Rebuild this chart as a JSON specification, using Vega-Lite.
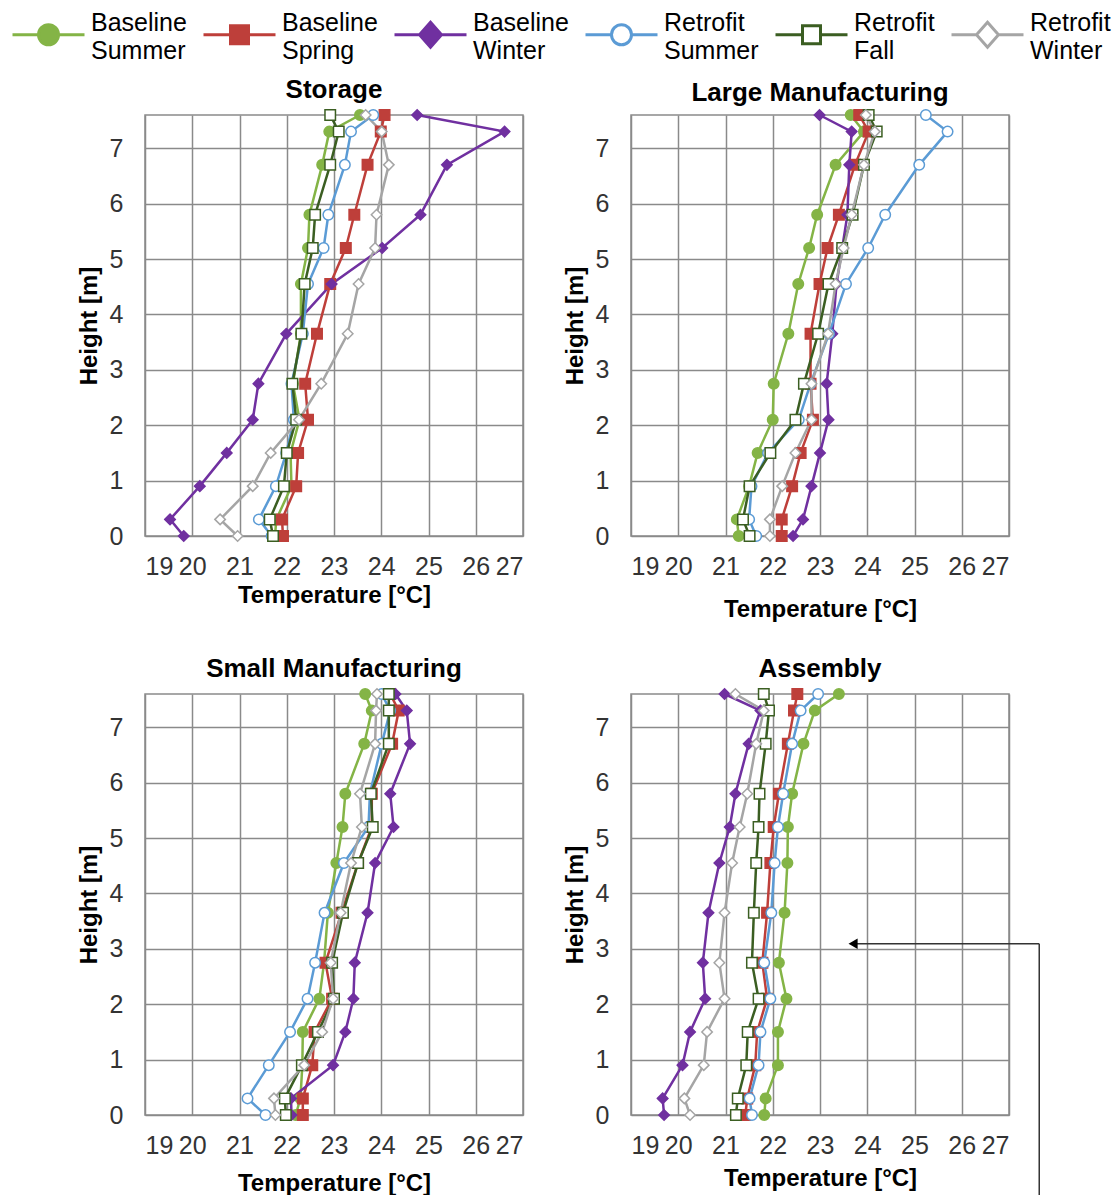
{
  "$schema": "https://vega.github.io/schema/vega-lite/v6.json",
  "padding": {"left": 10, "top": 22, "right": 5, "bottom": 0},
  "columns": 2,
  "spacing": {"row": 158, "column": 108},
  "bounds": "flush",
  "data": {"values": [
    {"p":"S","s":"Baseline Summer","h":0,"t":21.75},{"p":"S","s":"Baseline Summer","h":0.3,"t":21.78},{"p":"S","s":"Baseline Summer","h":0.9,"t":22.1},{"p":"S","s":"Baseline Summer","h":1.5,"t":22.08},{"p":"S","s":"Baseline Summer","h":2.1,"t":22.27},{"p":"S","s":"Baseline Summer","h":2.75,"t":22.13},{"p":"S","s":"Baseline Summer","h":3.65,"t":22.3},{"p":"S","s":"Baseline Summer","h":4.55,"t":22.3},{"p":"S","s":"Baseline Summer","h":5.2,"t":22.45},{"p":"S","s":"Baseline Summer","h":5.8,"t":22.48},{"p":"S","s":"Baseline Summer","h":6.7,"t":22.75},{"p":"S","s":"Baseline Summer","h":7.3,"t":22.9},{"p":"S","s":"Baseline Summer","h":7.6,"t":23.55},
    {"p":"S","s":"Baseline Spring","h":0,"t":21.92},{"p":"S","s":"Baseline Spring","h":0.3,"t":21.9},{"p":"S","s":"Baseline Spring","h":0.9,"t":22.2},{"p":"S","s":"Baseline Spring","h":1.5,"t":22.24},{"p":"S","s":"Baseline Spring","h":2.1,"t":22.45},{"p":"S","s":"Baseline Spring","h":2.75,"t":22.39},{"p":"S","s":"Baseline Spring","h":3.65,"t":22.64},{"p":"S","s":"Baseline Spring","h":4.55,"t":22.92},{"p":"S","s":"Baseline Spring","h":5.2,"t":23.25},{"p":"S","s":"Baseline Spring","h":5.8,"t":23.43},{"p":"S","s":"Baseline Spring","h":6.7,"t":23.71},{"p":"S","s":"Baseline Spring","h":7.3,"t":23.99},{"p":"S","s":"Baseline Spring","h":7.6,"t":24.07},
    {"p":"S","s":"Baseline Winter","h":0,"t":19.82},{"p":"S","s":"Baseline Winter","h":0.3,"t":19.53},{"p":"S","s":"Baseline Winter","h":0.9,"t":20.16},{"p":"S","s":"Baseline Winter","h":1.5,"t":20.73},{"p":"S","s":"Baseline Winter","h":2.1,"t":21.28},{"p":"S","s":"Baseline Winter","h":2.75,"t":21.4},{"p":"S","s":"Baseline Winter","h":3.65,"t":21.99},{"p":"S","s":"Baseline Winter","h":4.55,"t":22.95},{"p":"S","s":"Baseline Winter","h":5.2,"t":24.02},{"p":"S","s":"Baseline Winter","h":5.8,"t":24.83},{"p":"S","s":"Baseline Winter","h":6.7,"t":25.39},{"p":"S","s":"Baseline Winter","h":7.3,"t":26.61},{"p":"S","s":"Baseline Winter","h":7.6,"t":24.76},
    {"p":"S","s":"Retrofit Summer","h":0,"t":21.68},{"p":"S","s":"Retrofit Summer","h":0.3,"t":21.41},{"p":"S","s":"Retrofit Summer","h":0.9,"t":21.77},{"p":"S","s":"Retrofit Summer","h":1.5,"t":21.99},{"p":"S","s":"Retrofit Summer","h":2.1,"t":22.15},{"p":"S","s":"Retrofit Summer","h":2.75,"t":22.1},{"p":"S","s":"Retrofit Summer","h":3.65,"t":22.34},{"p":"S","s":"Retrofit Summer","h":4.55,"t":22.45},{"p":"S","s":"Retrofit Summer","h":5.2,"t":22.78},{"p":"S","s":"Retrofit Summer","h":5.8,"t":22.88},{"p":"S","s":"Retrofit Summer","h":6.7,"t":23.23},{"p":"S","s":"Retrofit Summer","h":7.3,"t":23.36},{"p":"S","s":"Retrofit Summer","h":7.6,"t":23.83},
    {"p":"S","s":"Retrofit Fall","h":0,"t":21.71},{"p":"S","s":"Retrofit Fall","h":0.3,"t":21.64},{"p":"S","s":"Retrofit Fall","h":0.9,"t":21.94},{"p":"S","s":"Retrofit Fall","h":1.5,"t":22.0},{"p":"S","s":"Retrofit Fall","h":2.1,"t":22.2},{"p":"S","s":"Retrofit Fall","h":2.75,"t":22.12},{"p":"S","s":"Retrofit Fall","h":3.65,"t":22.31},{"p":"S","s":"Retrofit Fall","h":4.55,"t":22.38},{"p":"S","s":"Retrofit Fall","h":5.2,"t":22.55},{"p":"S","s":"Retrofit Fall","h":5.8,"t":22.6},{"p":"S","s":"Retrofit Fall","h":6.7,"t":22.92},{"p":"S","s":"Retrofit Fall","h":7.3,"t":23.1},{"p":"S","s":"Retrofit Fall","h":7.6,"t":22.92},
    {"p":"S","s":"Retrofit Winter","h":0,"t":20.96},{"p":"S","s":"Retrofit Winter","h":0.3,"t":20.59},{"p":"S","s":"Retrofit Winter","h":0.9,"t":21.28},{"p":"S","s":"Retrofit Winter","h":1.5,"t":21.66},{"p":"S","s":"Retrofit Winter","h":2.1,"t":22.26},{"p":"S","s":"Retrofit Winter","h":2.75,"t":22.73},{"p":"S","s":"Retrofit Winter","h":3.65,"t":23.29},{"p":"S","s":"Retrofit Winter","h":4.55,"t":23.52},{"p":"S","s":"Retrofit Winter","h":5.2,"t":23.87},{"p":"S","s":"Retrofit Winter","h":5.8,"t":23.9},{"p":"S","s":"Retrofit Winter","h":6.7,"t":24.16},{"p":"S","s":"Retrofit Winter","h":7.3,"t":24.01},{"p":"S","s":"Retrofit Winter","h":7.6,"t":23.67},

    {"p":"L","s":"Baseline Summer","h":0,"t":21.28},{"p":"L","s":"Baseline Summer","h":0.3,"t":21.24},{"p":"L","s":"Baseline Summer","h":0.9,"t":21.5},{"p":"L","s":"Baseline Summer","h":1.5,"t":21.68},{"p":"L","s":"Baseline Summer","h":2.1,"t":22.0},{"p":"L","s":"Baseline Summer","h":2.75,"t":22.02},{"p":"L","s":"Baseline Summer","h":3.65,"t":22.33},{"p":"L","s":"Baseline Summer","h":4.55,"t":22.54},{"p":"L","s":"Baseline Summer","h":5.2,"t":22.77},{"p":"L","s":"Baseline Summer","h":5.8,"t":22.94},{"p":"L","s":"Baseline Summer","h":6.7,"t":23.33},{"p":"L","s":"Baseline Summer","h":7.3,"t":23.93},{"p":"L","s":"Baseline Summer","h":7.6,"t":23.65},
    {"p":"L","s":"Baseline Spring","h":0,"t":22.19},{"p":"L","s":"Baseline Spring","h":0.3,"t":22.19},{"p":"L","s":"Baseline Spring","h":0.9,"t":22.41},{"p":"L","s":"Baseline Spring","h":1.5,"t":22.59},{"p":"L","s":"Baseline Spring","h":2.1,"t":22.85},{"p":"L","s":"Baseline Spring","h":2.75,"t":22.8},{"p":"L","s":"Baseline Spring","h":3.65,"t":22.8},{"p":"L","s":"Baseline Spring","h":4.55,"t":22.99},{"p":"L","s":"Baseline Spring","h":5.2,"t":23.16},{"p":"L","s":"Baseline Spring","h":5.8,"t":23.4},{"p":"L","s":"Baseline Spring","h":6.7,"t":23.74},{"p":"L","s":"Baseline Spring","h":7.3,"t":24.03},{"p":"L","s":"Baseline Spring","h":7.6,"t":23.83},
    {"p":"L","s":"Baseline Winter","h":0,"t":22.43},{"p":"L","s":"Baseline Winter","h":0.3,"t":22.64},{"p":"L","s":"Baseline Winter","h":0.9,"t":22.82},{"p":"L","s":"Baseline Winter","h":1.5,"t":23.0},{"p":"L","s":"Baseline Winter","h":2.1,"t":23.18},{"p":"L","s":"Baseline Winter","h":2.75,"t":23.14},{"p":"L","s":"Baseline Winter","h":3.65,"t":23.26},{"p":"L","s":"Baseline Winter","h":4.55,"t":23.35},{"p":"L","s":"Baseline Winter","h":5.2,"t":23.47},{"p":"L","s":"Baseline Winter","h":5.8,"t":23.58},{"p":"L","s":"Baseline Winter","h":6.7,"t":23.62},{"p":"L","s":"Baseline Winter","h":7.3,"t":23.67},{"p":"L","s":"Baseline Winter","h":7.6,"t":22.99},
    {"p":"L","s":"Retrofit Summer","h":0,"t":21.65},{"p":"L","s":"Retrofit Summer","h":0.3,"t":21.5},{"p":"L","s":"Retrofit Summer","h":0.9,"t":21.55},{"p":"L","s":"Retrofit Summer","h":1.5,"t":21.9},{"p":"L","s":"Retrofit Summer","h":2.1,"t":22.55},{"p":"L","s":"Retrofit Summer","h":2.75,"t":22.8},{"p":"L","s":"Retrofit Summer","h":3.65,"t":23.19},{"p":"L","s":"Retrofit Summer","h":4.55,"t":23.55},{"p":"L","s":"Retrofit Summer","h":5.2,"t":24.02},{"p":"L","s":"Retrofit Summer","h":5.8,"t":24.38},{"p":"L","s":"Retrofit Summer","h":6.7,"t":25.1},{"p":"L","s":"Retrofit Summer","h":7.3,"t":25.7},{"p":"L","s":"Retrofit Summer","h":7.6,"t":25.24},
    {"p":"L","s":"Retrofit Fall","h":0,"t":21.51},{"p":"L","s":"Retrofit Fall","h":0.3,"t":21.37},{"p":"L","s":"Retrofit Fall","h":0.9,"t":21.51},{"p":"L","s":"Retrofit Fall","h":1.5,"t":21.95},{"p":"L","s":"Retrofit Fall","h":2.1,"t":22.48},{"p":"L","s":"Retrofit Fall","h":2.75,"t":22.66},{"p":"L","s":"Retrofit Fall","h":3.65,"t":22.96},{"p":"L","s":"Retrofit Fall","h":4.55,"t":23.18},{"p":"L","s":"Retrofit Fall","h":5.2,"t":23.47},{"p":"L","s":"Retrofit Fall","h":5.8,"t":23.69},{"p":"L","s":"Retrofit Fall","h":6.7,"t":23.93},{"p":"L","s":"Retrofit Fall","h":7.3,"t":24.2},{"p":"L","s":"Retrofit Fall","h":7.6,"t":24.03},
    {"p":"L","s":"Retrofit Winter","h":0,"t":21.94},{"p":"L","s":"Retrofit Winter","h":0.3,"t":21.94},{"p":"L","s":"Retrofit Winter","h":0.9,"t":22.2},{"p":"L","s":"Retrofit Winter","h":1.5,"t":22.48},{"p":"L","s":"Retrofit Winter","h":2.1,"t":22.82},{"p":"L","s":"Retrofit Winter","h":2.75,"t":22.82},{"p":"L","s":"Retrofit Winter","h":3.65,"t":23.17},{"p":"L","s":"Retrofit Winter","h":4.55,"t":23.33},{"p":"L","s":"Retrofit Winter","h":5.2,"t":23.5},{"p":"L","s":"Retrofit Winter","h":5.8,"t":23.67},{"p":"L","s":"Retrofit Winter","h":6.7,"t":23.93},{"p":"L","s":"Retrofit Winter","h":7.3,"t":24.16},{"p":"L","s":"Retrofit Winter","h":7.6,"t":23.97},

    {"p":"M","s":"Baseline Summer","h":0,"t":22.19},{"p":"M","s":"Baseline Summer","h":0.3,"t":22.29},{"p":"M","s":"Baseline Summer","h":0.9,"t":22.33},{"p":"M","s":"Baseline Summer","h":1.5,"t":22.34},{"p":"M","s":"Baseline Summer","h":2.1,"t":22.69},{"p":"M","s":"Baseline Summer","h":2.75,"t":22.79},{"p":"M","s":"Baseline Summer","h":3.65,"t":22.87},{"p":"M","s":"Baseline Summer","h":4.55,"t":23.05},{"p":"M","s":"Baseline Summer","h":5.2,"t":23.18},{"p":"M","s":"Baseline Summer","h":5.8,"t":23.24},{"p":"M","s":"Baseline Summer","h":6.7,"t":23.64},{"p":"M","s":"Baseline Summer","h":7.3,"t":23.8},{"p":"M","s":"Baseline Summer","h":7.6,"t":23.66},
    {"p":"M","s":"Baseline Spring","h":0,"t":22.34},{"p":"M","s":"Baseline Spring","h":0.3,"t":22.34},{"p":"M","s":"Baseline Spring","h":0.9,"t":22.54},{"p":"M","s":"Baseline Spring","h":1.5,"t":22.59},{"p":"M","s":"Baseline Spring","h":2.1,"t":22.96},{"p":"M","s":"Baseline Spring","h":2.75,"t":22.82},{"p":"M","s":"Baseline Spring","h":3.65,"t":23.16},{"p":"M","s":"Baseline Spring","h":4.55,"t":23.51},{"p":"M","s":"Baseline Spring","h":5.2,"t":23.8},{"p":"M","s":"Baseline Spring","h":5.8,"t":23.8},{"p":"M","s":"Baseline Spring","h":6.7,"t":24.23},{"p":"M","s":"Baseline Spring","h":7.3,"t":24.37},{"p":"M","s":"Baseline Spring","h":7.6,"t":24.19},
    {"p":"M","s":"Baseline Winter","h":0,"t":22.1},{"p":"M","s":"Baseline Winter","h":0.3,"t":22.09},{"p":"M","s":"Baseline Winter","h":0.9,"t":22.98},{"p":"M","s":"Baseline Winter","h":1.5,"t":23.24},{"p":"M","s":"Baseline Winter","h":2.1,"t":23.41},{"p":"M","s":"Baseline Winter","h":2.75,"t":23.44},{"p":"M","s":"Baseline Winter","h":3.65,"t":23.71},{"p":"M","s":"Baseline Winter","h":4.55,"t":23.87},{"p":"M","s":"Baseline Winter","h":5.2,"t":24.26},{"p":"M","s":"Baseline Winter","h":5.8,"t":24.19},{"p":"M","s":"Baseline Winter","h":6.7,"t":24.61},{"p":"M","s":"Baseline Winter","h":7.3,"t":24.54},{"p":"M","s":"Baseline Winter","h":7.6,"t":24.3},
    {"p":"M","s":"Retrofit Summer","h":0,"t":21.55},{"p":"M","s":"Retrofit Summer","h":0.3,"t":21.17},{"p":"M","s":"Retrofit Summer","h":0.9,"t":21.62},{"p":"M","s":"Retrofit Summer","h":1.5,"t":22.07},{"p":"M","s":"Retrofit Summer","h":2.1,"t":22.44},{"p":"M","s":"Retrofit Summer","h":2.75,"t":22.6},{"p":"M","s":"Retrofit Summer","h":3.65,"t":22.8},{"p":"M","s":"Retrofit Summer","h":4.55,"t":23.21},{"p":"M","s":"Retrofit Summer","h":5.2,"t":23.73},{"p":"M","s":"Retrofit Summer","h":5.8,"t":23.76},{"p":"M","s":"Retrofit Summer","h":6.7,"t":24.01},{"p":"M","s":"Retrofit Summer","h":7.3,"t":24.19},{"p":"M","s":"Retrofit Summer","h":7.6,"t":24.01},
    {"p":"M","s":"Retrofit Fall","h":0,"t":21.98},{"p":"M","s":"Retrofit Fall","h":0.3,"t":21.96},{"p":"M","s":"Retrofit Fall","h":0.9,"t":22.32},{"p":"M","s":"Retrofit Fall","h":1.5,"t":22.66},{"p":"M","s":"Retrofit Fall","h":2.1,"t":23.0},{"p":"M","s":"Retrofit Fall","h":2.75,"t":22.96},{"p":"M","s":"Retrofit Fall","h":3.65,"t":23.19},{"p":"M","s":"Retrofit Fall","h":4.55,"t":23.51},{"p":"M","s":"Retrofit Fall","h":5.2,"t":23.82},{"p":"M","s":"Retrofit Fall","h":5.8,"t":23.78},{"p":"M","s":"Retrofit Fall","h":6.7,"t":24.16},{"p":"M","s":"Retrofit Fall","h":7.3,"t":24.16},{"p":"M","s":"Retrofit Fall","h":7.6,"t":24.16},
    {"p":"M","s":"Retrofit Winter","h":0,"t":21.76},{"p":"M","s":"Retrofit Winter","h":0.3,"t":21.73},{"p":"M","s":"Retrofit Winter","h":0.9,"t":22.37},{"p":"M","s":"Retrofit Winter","h":1.5,"t":22.75},{"p":"M","s":"Retrofit Winter","h":2.1,"t":22.98},{"p":"M","s":"Retrofit Winter","h":2.75,"t":22.93},{"p":"M","s":"Retrofit Winter","h":3.65,"t":23.14},{"p":"M","s":"Retrofit Winter","h":4.55,"t":23.36},{"p":"M","s":"Retrofit Winter","h":5.2,"t":23.59},{"p":"M","s":"Retrofit Winter","h":5.8,"t":23.55},{"p":"M","s":"Retrofit Winter","h":6.7,"t":23.87},{"p":"M","s":"Retrofit Winter","h":7.3,"t":23.89},{"p":"M","s":"Retrofit Winter","h":7.6,"t":23.91},

    {"p":"A","s":"Baseline Summer","h":0,"t":21.82},{"p":"A","s":"Baseline Summer","h":0.3,"t":21.85},{"p":"A","s":"Baseline Summer","h":0.9,"t":22.11},{"p":"A","s":"Baseline Summer","h":1.5,"t":22.11},{"p":"A","s":"Baseline Summer","h":2.1,"t":22.29},{"p":"A","s":"Baseline Summer","h":2.75,"t":22.13},{"p":"A","s":"Baseline Summer","h":3.65,"t":22.25},{"p":"A","s":"Baseline Summer","h":4.55,"t":22.31},{"p":"A","s":"Baseline Summer","h":5.2,"t":22.32},{"p":"A","s":"Baseline Summer","h":5.8,"t":22.41},{"p":"A","s":"Baseline Summer","h":6.7,"t":22.65},{"p":"A","s":"Baseline Summer","h":7.3,"t":22.89},{"p":"A","s":"Baseline Summer","h":7.6,"t":23.4},
    {"p":"A","s":"Baseline Spring","h":0,"t":21.42},{"p":"A","s":"Baseline Spring","h":0.3,"t":21.46},{"p":"A","s":"Baseline Spring","h":0.9,"t":21.63},{"p":"A","s":"Baseline Spring","h":1.5,"t":21.67},{"p":"A","s":"Baseline Spring","h":2.1,"t":21.88},{"p":"A","s":"Baseline Spring","h":2.75,"t":21.78},{"p":"A","s":"Baseline Spring","h":3.65,"t":21.88},{"p":"A","s":"Baseline Spring","h":4.55,"t":21.95},{"p":"A","s":"Baseline Spring","h":5.2,"t":22.02},{"p":"A","s":"Baseline Spring","h":5.8,"t":22.13},{"p":"A","s":"Baseline Spring","h":6.7,"t":22.32},{"p":"A","s":"Baseline Spring","h":7.3,"t":22.45},{"p":"A","s":"Baseline Spring","h":7.6,"t":22.52},
    {"p":"A","s":"Baseline Winter","h":0,"t":19.7},{"p":"A","s":"Baseline Winter","h":0.3,"t":19.67},{"p":"A","s":"Baseline Winter","h":0.9,"t":20.09},{"p":"A","s":"Baseline Winter","h":1.5,"t":20.25},{"p":"A","s":"Baseline Winter","h":2.1,"t":20.57},{"p":"A","s":"Baseline Winter","h":2.75,"t":20.52},{"p":"A","s":"Baseline Winter","h":3.65,"t":20.64},{"p":"A","s":"Baseline Winter","h":4.55,"t":20.87},{"p":"A","s":"Baseline Winter","h":5.2,"t":21.09},{"p":"A","s":"Baseline Winter","h":5.8,"t":21.21},{"p":"A","s":"Baseline Winter","h":6.7,"t":21.49},{"p":"A","s":"Baseline Winter","h":7.3,"t":21.74},{"p":"A","s":"Baseline Winter","h":7.6,"t":20.98},
    {"p":"A","s":"Retrofit Summer","h":0,"t":21.56},{"p":"A","s":"Retrofit Summer","h":0.3,"t":21.51},{"p":"A","s":"Retrofit Summer","h":0.9,"t":21.7},{"p":"A","s":"Retrofit Summer","h":1.5,"t":21.74},{"p":"A","s":"Retrofit Summer","h":2.1,"t":21.95},{"p":"A","s":"Retrofit Summer","h":2.75,"t":21.82},{"p":"A","s":"Retrofit Summer","h":3.65,"t":21.97},{"p":"A","s":"Retrofit Summer","h":4.55,"t":22.04},{"p":"A","s":"Retrofit Summer","h":5.2,"t":22.11},{"p":"A","s":"Retrofit Summer","h":5.8,"t":22.22},{"p":"A","s":"Retrofit Summer","h":6.7,"t":22.41},{"p":"A","s":"Retrofit Summer","h":7.3,"t":22.59},{"p":"A","s":"Retrofit Summer","h":7.6,"t":22.96},
    {"p":"A","s":"Retrofit Fall","h":0,"t":21.22},{"p":"A","s":"Retrofit Fall","h":0.3,"t":21.26},{"p":"A","s":"Retrofit Fall","h":0.9,"t":21.44},{"p":"A","s":"Retrofit Fall","h":1.5,"t":21.47},{"p":"A","s":"Retrofit Fall","h":2.1,"t":21.7},{"p":"A","s":"Retrofit Fall","h":2.75,"t":21.56},{"p":"A","s":"Retrofit Fall","h":3.65,"t":21.6},{"p":"A","s":"Retrofit Fall","h":4.55,"t":21.65},{"p":"A","s":"Retrofit Fall","h":5.2,"t":21.7},{"p":"A","s":"Retrofit Fall","h":5.8,"t":21.72},{"p":"A","s":"Retrofit Fall","h":6.7,"t":21.85},{"p":"A","s":"Retrofit Fall","h":7.3,"t":21.92},{"p":"A","s":"Retrofit Fall","h":7.6,"t":21.81},
    {"p":"A","s":"Retrofit Winter","h":0,"t":20.25},{"p":"A","s":"Retrofit Winter","h":0.3,"t":20.13},{"p":"A","s":"Retrofit Winter","h":0.9,"t":20.54},{"p":"A","s":"Retrofit Winter","h":1.5,"t":20.61},{"p":"A","s":"Retrofit Winter","h":2.1,"t":20.98},{"p":"A","s":"Retrofit Winter","h":2.75,"t":20.87},{"p":"A","s":"Retrofit Winter","h":3.65,"t":20.98},{"p":"A","s":"Retrofit Winter","h":4.55,"t":21.14},{"p":"A","s":"Retrofit Winter","h":5.2,"t":21.3},{"p":"A","s":"Retrofit Winter","h":5.8,"t":21.46},{"p":"A","s":"Retrofit Winter","h":6.7,"t":21.65},{"p":"A","s":"Retrofit Winter","h":7.3,"t":21.81},{"p":"A","s":"Retrofit Winter","h":7.6,"t":21.21}
  ]},
  "concat": [
    {
      "title": "Storage",
      "width": 378, "height": 421,
      "transform": [{"filter": "datum.p == 'S'"}],
      "layer": [
        {"mark": {"type": "line", "strokeWidth": 2.5},
         "encoding": {
           "x": {"field": "t", "type": "quantitative", "scale": {"domain": [19, 27], "nice": false, "zero": false}, "axis": {"values": [19,20,21,22,23,24,25,26,27], "title": "Temperature [°C]"}},
           "y": {"field": "h", "type": "quantitative", "scale": {"domain": [0, 7.6], "nice": false}, "axis": {"values": [0,1,2,3,4,5,6,7], "format": "d", "title": "Height [m]"}},
           "order": {"field": "h", "type": "quantitative"},
           "stroke": {"field": "s", "type": "nominal", "scale": {"domain": ["Baseline Summer","Baseline Spring","Baseline Winter","Retrofit Summer","Retrofit Fall","Retrofit Winter"], "range": ["#84B446","#BE3F3A","#7030A0","#5B9BD5","#3B5E22","#A5A5A5"]},
             "legend": {"title": null, "orient": "none", "legendX": -135, "legendY": -93, "direction": "horizontal", "symbolSize": 400, "symbolStrokeWidth": 3, "labelFontSize": 25, "labelColor": "#000000", "labelExpr": "split(datum.label, ' ')", "labelOffset": 30, "columnPadding": 10, "symbolOffset": 26, "labelLimit": 300,
               "encode": {"symbols": {"update": {"shape": {"signal": "indexof(['Baseline Summer','Retrofit Summer'], datum.value) >= 0 ? 'M-3.6,0L-1,0M1,0L3.6,0M-1,0A1,1,0,1,0,1,0A1,1,0,1,0,-1,0Z' : (indexof(['Baseline Spring','Retrofit Fall'], datum.value) >= 0 ? 'M-3.6,0L-0.9,0M0.9,0L3.6,0M-0.9,-0.9L0.9,-0.9L0.9,0.9L-0.9,0.9Z' : 'M-3.6,0L-1.1,0M1.1,0L3.6,0M0,-1.25L1.1,0L0,1.25L-1.1,0Z')"}}}, "labels": {"update": {"lineHeight": {"value": 28}, "dy": {"value": -12}}}}}}
         }},
        {"mark": {"type": "point", "size": 110, "strokeWidth": 1.5, "opacity": 1},
         "encoding": {
           "x": {"field": "t", "type": "quantitative", "scale": {"domain": [19, 27], "nice": false, "zero": false}},
           "y": {"field": "h", "type": "quantitative", "scale": {"domain": [0, 7.6], "nice": false}},
           "stroke": {"field": "s", "type": "nominal", "scale": {"domain": ["Baseline Summer","Baseline Spring","Baseline Winter","Retrofit Summer","Retrofit Fall","Retrofit Winter"], "range": ["#84B446","#BE3F3A","#7030A0","#5B9BD5","#3B5E22","#A5A5A5"]},
             "legend": {"title": null, "orient": "none", "legendX": -135, "legendY": -93, "direction": "horizontal", "symbolSize": 400, "symbolStrokeWidth": 3, "labelFontSize": 25, "labelColor": "#000000", "labelExpr": "split(datum.label, ' ')", "labelOffset": 30, "columnPadding": 10, "symbolOffset": 26, "labelLimit": 300,
               "encode": {"symbols": {"update": {"shape": {"signal": "indexof(['Baseline Summer','Retrofit Summer'], datum.value) >= 0 ? 'M-3.6,0L-1,0M1,0L3.6,0M-1,0A1,1,0,1,0,1,0A1,1,0,1,0,-1,0Z' : (indexof(['Baseline Spring','Retrofit Fall'], datum.value) >= 0 ? 'M-3.6,0L-0.9,0M0.9,0L3.6,0M-0.9,-0.9L0.9,-0.9L0.9,0.9L-0.9,0.9Z' : 'M-3.6,0L-1.1,0M1.1,0L3.6,0M0,-1.25L1.1,0L0,1.25L-1.1,0Z')"}}}, "labels": {"update": {"lineHeight": {"value": 28}, "dy": {"value": -12}}}}}},
           "fill": {"field": "s", "type": "nominal", "scale": {"domain": ["Baseline Summer","Baseline Spring","Baseline Winter","Retrofit Summer","Retrofit Fall","Retrofit Winter"], "range": ["#84B446","#BE3F3A","#7030A0","#FFFFFF","#FFFFFF","#FFFFFF"]},
             "legend": {"title": null, "orient": "none", "legendX": -135, "legendY": -93, "direction": "horizontal", "symbolSize": 400, "symbolStrokeWidth": 3, "labelFontSize": 25, "labelColor": "#000000", "labelExpr": "split(datum.label, ' ')", "labelOffset": 30, "columnPadding": 10, "symbolOffset": 26, "labelLimit": 300,
               "encode": {"symbols": {"update": {"shape": {"signal": "indexof(['Baseline Summer','Retrofit Summer'], datum.value) >= 0 ? 'M-3.6,0L-1,0M1,0L3.6,0M-1,0A1,1,0,1,0,1,0A1,1,0,1,0,-1,0Z' : (indexof(['Baseline Spring','Retrofit Fall'], datum.value) >= 0 ? 'M-3.6,0L-0.9,0M0.9,0L3.6,0M-0.9,-0.9L0.9,-0.9L0.9,0.9L-0.9,0.9Z' : 'M-3.6,0L-1.1,0M1.1,0L3.6,0M0,-1.25L1.1,0L0,1.25L-1.1,0Z')"}}}, "labels": {"update": {"lineHeight": {"value": 28}, "dy": {"value": -12}}}}}},
           "shape": {"field": "s", "type": "nominal", "legend": null, "scale": {"domain": ["Baseline Summer","Retrofit Summer","Baseline Spring","Retrofit Fall","Baseline Winter","Retrofit Winter"], "range": ["circle","circle","square","square","diamond","diamond"]}}
         }}
      ]
    },
    {
      "title": {"text": "Large Manufacturing", "offset": 1},
      "width": 378, "height": 421,
      "transform": [{"filter": "datum.p == 'L'"}],
      "layer": [
        {"mark": {"type": "line", "strokeWidth": 2.5},
         "encoding": {
           "x": {"field": "t", "type": "quantitative", "scale": {"domain": [19, 27], "nice": false, "zero": false}, "axis": {"values": [19,20,21,22,23,24,25,26,27], "title": "Temperature [°C]", "titlePadding": 18}},
           "y": {"field": "h", "type": "quantitative", "scale": {"domain": [0, 7.6], "nice": false}, "axis": {"values": [0,1,2,3,4,5,6,7], "format": "d", "title": "Height [m]"}},
           "order": {"field": "h", "type": "quantitative"},
           "stroke": {"field": "s", "type": "nominal"}
         }},
        {"mark": {"type": "point", "size": 110, "strokeWidth": 1.5, "opacity": 1},
         "encoding": {
           "x": {"field": "t", "type": "quantitative", "scale": {"domain": [19, 27], "nice": false, "zero": false}},
           "y": {"field": "h", "type": "quantitative", "scale": {"domain": [0, 7.6], "nice": false}},
           "stroke": {"field": "s", "type": "nominal"},
           "fill": {"field": "s", "type": "nominal"},
           "shape": {"field": "s", "type": "nominal", "legend": null}
         }}
      ]
    },
    {
      "title": "Small Manufacturing",
      "width": 378, "height": 421,
      "transform": [{"filter": "datum.p == 'M'"}],
      "layer": [
        {"mark": {"type": "line", "strokeWidth": 2.5},
         "encoding": {
           "x": {"field": "t", "type": "quantitative", "scale": {"domain": [19, 27], "nice": false, "zero": false}, "axis": {"values": [19,20,21,22,23,24,25,26,27], "title": "Temperature [°C]", "titlePadding": 13}},
           "y": {"field": "h", "type": "quantitative", "scale": {"domain": [0, 7.6], "nice": false}, "axis": {"values": [0,1,2,3,4,5,6,7], "format": "d", "title": "Height [m]"}},
           "order": {"field": "h", "type": "quantitative"},
           "stroke": {"field": "s", "type": "nominal"}
         }},
        {"mark": {"type": "point", "size": 110, "strokeWidth": 1.5, "opacity": 1},
         "encoding": {
           "x": {"field": "t", "type": "quantitative", "scale": {"domain": [19, 27], "nice": false, "zero": false}},
           "y": {"field": "h", "type": "quantitative", "scale": {"domain": [0, 7.6], "nice": false}},
           "stroke": {"field": "s", "type": "nominal"},
           "fill": {"field": "s", "type": "nominal"},
           "shape": {"field": "s", "type": "nominal", "legend": null}
         }}
      ]
    },
    {
      "title": "Assembly",
      "width": 378, "height": 421,
      "layer": [
        {"transform": [{"filter": "datum.p == 'A'"}],
         "mark": {"type": "line", "strokeWidth": 2.5},
         "encoding": {
           "x": {"field": "t", "type": "quantitative", "scale": {"domain": [19, 27], "nice": false, "zero": false}, "axis": {"values": [19,20,21,22,23,24,25,26,27], "title": "Temperature [°C]", "titlePadding": 8}},
           "y": {"field": "h", "type": "quantitative", "scale": {"domain": [0, 7.6], "nice": false}, "axis": {"values": [0,1,2,3,4,5,6,7], "format": "d", "title": "Height [m]"}},
           "order": {"field": "h", "type": "quantitative"},
           "stroke": {"field": "s", "type": "nominal"}
         }},
        {"transform": [{"filter": "datum.p == 'A'"}],
         "mark": {"type": "point", "size": 110, "strokeWidth": 1.5, "opacity": 1},
         "encoding": {
           "x": {"field": "t", "type": "quantitative", "scale": {"domain": [19, 27], "nice": false, "zero": false}},
           "y": {"field": "h", "type": "quantitative", "scale": {"domain": [0, 7.6], "nice": false}},
           "stroke": {"field": "s", "type": "nominal"},
           "fill": {"field": "s", "type": "nominal"},
           "shape": {"field": "s", "type": "nominal", "legend": null}
         }},
        {"data": {"values": [{"t": 27.64, "t2": 23.75, "h": 3.09}]},
         "mark": {"type": "rule", "color": "#333333", "strokeWidth": 1.5},
         "encoding": {
           "x": {"field": "t", "type": "quantitative", "scale": {"domain": [19, 27], "nice": false, "zero": false}},
           "x2": {"field": "t2"},
           "y": {"field": "h", "type": "quantitative", "scale": {"domain": [0, 7.6], "nice": false}}
         }},
        {"data": {"values": [{"t": 27.64, "h": 3.09, "h2": -1.5}]},
         "mark": {"type": "rule", "color": "#333333", "strokeWidth": 1.5},
         "encoding": {
           "x": {"field": "t", "type": "quantitative", "scale": {"domain": [19, 27], "nice": false, "zero": false}},
           "y": {"field": "h", "type": "quantitative", "scale": {"domain": [0, 7.6], "nice": false}},
           "y2": {"field": "h2"}
         }},
        {"data": {"values": [{"t": 23.7, "h": 3.09}]},
         "mark": {"type": "point", "shape": "triangle-left", "filled": true, "color": "#000000", "size": 110, "opacity": 1},
         "encoding": {
           "x": {"field": "t", "type": "quantitative", "scale": {"domain": [19, 27], "nice": false, "zero": false}},
           "y": {"field": "h", "type": "quantitative", "scale": {"domain": [0, 7.6], "nice": false}}
         }}
      ]
    }
  ],
  "config": {
    "font": "Liberation Sans",
    "view": {"stroke": "#8a8a8a", "strokeWidth": 1.5},
    "axis": {"grid": true, "gridColor": "#8a8a8a", "gridWidth": 1.5, "gridOpacity": 1, "domain": false, "ticks": false, "tickSize": 0, "labelFontSize": 25, "labelColor": "#333333", "labelFont": "Liberation Sans", "titleFont": "Liberation Sans", "titleFontSize": 24, "titleFontWeight": "bold", "titleColor": "#000000"},
    "axisX": {"labelPadding": 18, "titlePadding": 4},
    "axisY": {"labelPadding": 22, "titlePadding": 8},
    "title": {"fontSize": 26, "fontWeight": "bold", "color": "#000000", "offset": 4, "font": "Liberation Sans"}
  }
}
